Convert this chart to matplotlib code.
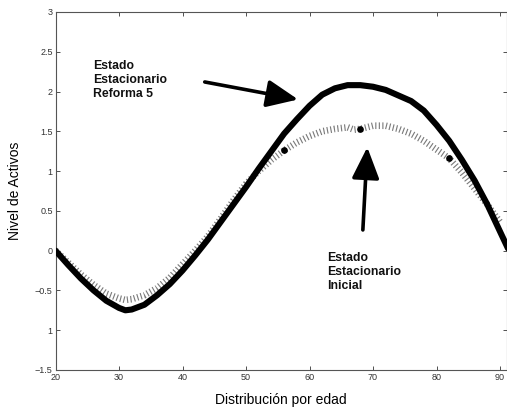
import matplotlib
matplotlib.use("Agg")
import matplotlib.pyplot as plt

plt.rcParams['font.family'] = ['Liberation Sans', 'DejaVu Sans']

# Estado Estacionario Reforma 5 (thick black)
ref_x = [20, 22, 24, 26, 28, 30, 31, 32, 34, 36, 38, 40, 42, 44, 46, 48, 50, 52, 54,
         56, 58, 60, 62, 64, 66, 68, 70, 72, 74, 76, 78, 80, 82, 84, 86, 88, 90, 91.3]
ref_y = [0.0, -0.18, -0.35, -0.5, -0.63, -0.72, -0.75, -0.74, -0.68, -0.56, -0.42, -0.25,
         -0.06, 0.14, 0.36, 0.58, 0.8, 1.03, 1.25, 1.47, 1.65, 1.82, 1.96, 2.04, 2.08, 2.08,
         2.06, 2.02, 1.95, 1.88, 1.76, 1.58, 1.38, 1.14, 0.88, 0.58, 0.24, 0.02]

# Estado Estacionario Inicial (gray hatched)
ini_x = [20, 22, 24, 26, 28, 30, 31, 32, 34, 36, 38, 40, 42, 44, 46, 48, 50, 52, 54,
         56, 58, 60, 62, 64, 66, 67, 68, 70, 72, 74, 76, 78, 80, 82, 84, 86, 88, 90]
ini_y = [0.0, -0.15, -0.3, -0.43, -0.54, -0.6, -0.62, -0.61, -0.56, -0.47, -0.34, -0.17,
         0.0, 0.18, 0.4, 0.63, 0.84, 1.0, 1.14, 1.26, 1.36, 1.44, 1.5, 1.53, 1.55, 1.52,
         1.53, 1.57, 1.57, 1.53, 1.47, 1.38, 1.27, 1.16, 0.98, 0.78, 0.58, 0.36]

# marked points on the initial curve
dot_x = [56, 68, 82]
dot_y = [1.26, 1.53, 1.17]

xticks = [20, 30, 40, 50, 60, 70, 80, 90]
yticks = [3, 2.5, 2, 1.5, 1, 0.5, 0, -0.5, -1, -1.5]
ytick_labels = ["3", "2.5", "2", "1.5", "1", "0.5", "0", "\u22120.5", "1", "\u22121.5"]

fig = plt.figure(figsize=(5.07, 4.12), dpi=100)
ax = fig.add_axes([0.1095, 0.102, 0.8905, 0.869])

ax.plot(ini_x, ini_y, color='#7a7a7a', lw=4.8, linestyle=(0, (0.17, 0.36)),
        solid_capstyle='butt', dash_capstyle='butt', zorder=2)
ax.plot(ref_x, ref_y, color='black', lw=4.4, solid_capstyle='round', zorder=3)
ax.plot(dot_x, dot_y, 'o', color='black', ms=3.8, zorder=4)

ax.set_xlim(20, 91.1)
ax.set_ylim(-1.5, 3)
ax.set_xticks(xticks)
ax.set_xticklabels([str(t) for t in xticks])
ax.set_yticks(yticks)
ax.set_yticklabels(ytick_labels)
ax.tick_params(direction='in', length=3, width=0.6, labelsize=6.5, colors='#333333',
               top=True, right=True, pad=2)
for s in ax.spines.values():
    s.set_linewidth(0.8)
    s.set_color('#555555')

ax.set_xlabel("Distribución por edad", fontsize=10, labelpad=8)
ax.set_ylabel("Nivel de Activos", fontsize=10, labelpad=9)

txt_kw = dict(fontsize=8.8, fontweight='bold', va='top', ha='left', linespacing=1.22,
              color='#111111')
ax.text(25.9, 2.40, "Estado\nEstacionario\nReforma 5", **txt_kw)
ax.text(62.8, -0.02, "Estado\nEstacionario\nInicial", **txt_kw)

arrow_kw = dict(arrowstyle='-|>,head_length=1.6,head_width=0.7', color='black',
                lw=2.6, shrinkA=0, shrinkB=0, mutation_scale=12)
ax.annotate("", xy=(58.2, 1.9), xytext=(43.5, 2.12), arrowprops=arrow_kw)
ax.annotate("", xy=(69.1, 1.30), xytext=(68.4, 0.26), arrowprops=arrow_kw)

fig.savefig("out.png", dpi=100)
